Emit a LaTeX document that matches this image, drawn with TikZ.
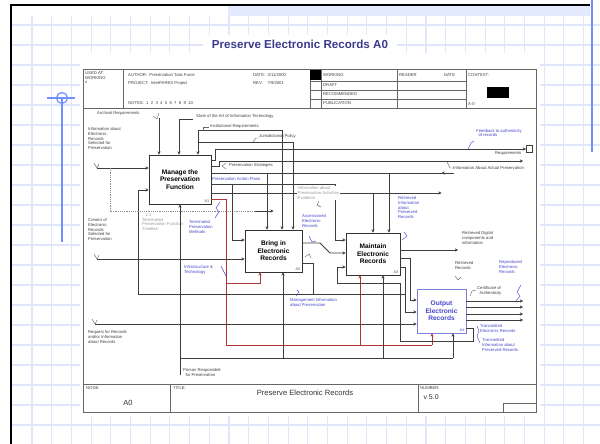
\documentclass[tikz,border=0pt]{standalone}
\usepackage{fontspec}
\setmainfont{Liberation Sans}
\usetikzlibrary{arrows.meta}
\definecolor{gridc}{HTML}{E0E6FB}
\definecolor{bandc}{HTML}{E4EAFD}
\definecolor{bluel}{HTML}{7090FF}
\definecolor{titlec}{HTML}{3A3A8E}
\definecolor{lblue}{HTML}{4646CC}
\definecolor{lred}{HTML}{B03535}
\definecolor{ln}{HTML}{3E3E3E}
\begin{document}
\begin{tikzpicture}[x=1pt,y=-1pt,
  conn/.style={draw=ln, line width=0.75pt},
  arr/.style={conn, -{Stealth[length=3.2pt,width=3.2pt]}},
  redarr/.style={draw=lred, line width=0.75pt, -{Stealth[length=3.2pt,width=3.2pt]}},
  redl/.style={draw=lred, line width=0.75pt},
  dashl/.style={draw=black!45, line width=0.6pt, dash pattern=on 1.2pt off 1pt},
  frame/.style={draw=black!60, line width=0.8pt},
  act/.style={draw=black!80, line width=0.8pt, fill=white, align=center, font=\fontsize{6.6}{7.6}\selectfont\bfseries, inner sep=0pt},
  tiny/.style={font=\fontsize{4.2}{4.9}\selectfont, text=black!75, inner sep=0pt, align=left},
  btiny/.style={tiny, text=lblue},
  gtiny/.style={tiny, text=black!40},
  aid/.style={font=\fontsize{3.8}{4.2}\selectfont, inner sep=0pt, text=black!70},
  squig/.style={draw=lblue, line width=0.45pt},
  ksquig/.style={draw=black!60, line width=0.45pt}
]
\useasboundingbox (0,0) rectangle (600,444);
\fill[white] (0,0) rectangle (600,444);
% background grid
\foreach \i in {0,...,28} {\draw[gridc, line width=1.1pt] ({32+19.7*\i},16) -- ({32+19.7*\i},444);}
\foreach \j in {0,...,20} {\draw[gridc, line width=1.1pt] (11,{25+20*\j}) -- (600,{25+20*\j});}
\fill[bandc] (228,6) rectangle (590,16);
\draw[black, line width=1.2pt] (11,444) -- (11,5) -- (590,5);
\draw[bluel, line width=1.4pt] (592,0) -- (592,152);
\draw[bluel, line width=1.2pt] (47,98) -- (75,98);
\draw[bluel, line width=1.2pt] (62,98) -- (62,242);
\draw[bluel, line width=1.2pt] (62,98) circle (5.5);
% diagram sheet
\fill[white] (80,53) rectangle (540,416);
\fill[white] (203,35) rectangle (397,53);
% title
\node[font=\fontsize{11.6}{13}\selectfont\bfseries, text=titlec] (title) at (300,44) {Preserve Electronic Records A0};
\draw[frame] (83,69) rectangle (536,412);
% header
\draw[frame] (83,108) -- (536,108);
\draw[frame] (123,69) -- (123,108);
\draw[frame] (310,69) -- (310,108);
\draw[frame] (321,69) -- (321,108);
\draw[frame] (397,69) -- (397,108);
\draw[frame] (466,69) -- (466,108);
\draw[frame] (310,81) -- (466,81);
\draw[frame] (310,90) -- (466,90);
\draw[frame] (310,99) -- (466,99);
\fill[black] (310,70) rectangle (321,80);
\fill[black] (487,87) rectangle (509,98);
\node[tiny, anchor=north west] (usedat) at (85,71) {USED AT:\\WORKING\\s};
\node[tiny, anchor=west] (author) at (128,75) {AUTHOR:~~Preservation Task Force};
\node[tiny, anchor=west] (project) at (128,83) {PROJECT:~~InterPARES Project};
\node[tiny, anchor=west] (date) at (253,75) {DATE:~~2/11/2000};
\node[tiny, anchor=west] (rev) at (253,83) {REV:~~~~7/9/2001};
\node[tiny, anchor=west] (notes) at (128,103.5) {NOTES:~~1~~2~~3~~4~~5~~6~~7~~8~~9~~10};
\node[tiny, anchor=west] (working) at (323,75.5) {WORKING};
\node[tiny, anchor=west] (draft) at (323,85.5) {DRAFT};
\node[tiny, anchor=west] (recom) at (323,94.5) {RECOMMENDED};
\node[tiny, anchor=west] (publ) at (323,103.5) {PUBLICATION};
\node[tiny, anchor=west] (reader) at (399,75.5) {READER};
\node[tiny, anchor=west] (rdate) at (444,75.5) {DATE};
\node[tiny, anchor=west] (context) at (468,75.5) {CONTEXT:};
\node[tiny, anchor=west] (azero) at (468,104.5) {A-0};
% footer
\draw[frame] (83,384) -- (536,384);
\draw[frame] (170,384) -- (170,412);
\draw[frame] (418,384) -- (418,412);
\draw[frame] (503,412) -- (503,403) -- (536,403);
\node[tiny, anchor=north west] (nodel) at (86,386) {NODE:};
\node[font=\fontsize{7.5}{8.5}\selectfont, text=black!80] (nodev) at (128,403) {A0};
\node[tiny, anchor=north west] (titlel) at (173,386) {TITLE:};
\node[font=\fontsize{7.6}{8.6}\selectfont, text=black!80] (titlev) at (305,392.5) {Preserve Electronic Records};
\node[tiny, anchor=north west] (numl) at (420,386) {NUMBER:};
\node[font=\fontsize{7}{8}\selectfont, text=black!80, anchor=west] (numv) at (420,397) {v 5.0};
% activity boxes
\node[act, minimum width=62pt, minimum height=49pt] (A1) at (180,179.5) {Manage the\\Preservation\\Function};
\node[act, minimum width=57pt, minimum height=42pt] (A2) at (273.5,251) {Bring in\\Electronic\\Records};
\node[act, minimum width=54pt, minimum height=42pt] (A3) at (373,254) {Maintain\\Electronic\\Records};
\node[act, draw=lblue!70, text=lblue, minimum width=49pt, minimum height=44pt] (A4) at (441.5,311) {Output\\Electronic\\Records};
\node[aid, anchor=south east] at ([shift={(-2,-1.5)}]A1.south east) {A1};
\node[aid, anchor=south east] at ([shift={(-2,-1.5)}]A2.south east) {A2};
\node[aid, anchor=south east] at ([shift={(-2,-1.5)}]A3.south east) {A3};
\node[aid, anchor=south east, text=lblue] at ([shift={(-2,-1.5)}]A4.south east) {A4};
% ---- controls into A1
\coordinate (cArch) at (159,118);
\coordinate (cState) at (179,119);
\coordinate (cInst) at (198,130);
\draw[arr] (cArch) -- (cArch |- A1.north);
\draw[arr] (cState) -- (cState |- A1.north);
\draw[arr] (cInst) -- (cInst |- A1.north);
\draw[conn] (cState) -- ++(14,0);
\draw[ksquig] (153,116) -- (157,119) -- (159,113);
\node[tiny, anchor=west] (tArch) at (97,113.5) {Archival Requirements};
\node[tiny, anchor=west] (tState) at (196,116) {State of the Art of Information Technology};
\draw[conn] (cInst) -- ++(84,0) coordinate (cInstE);
\draw[arr] (cInstE) -- (cInstE |- A2.north);
\node[tiny, anchor=west] (tInst) at (210,126) {Institutional Requirements};
\draw[ksquig] (203,131) -- (203,127) -- (209,127);
\coordinate (cJur) at (198,142);
\draw[conn] (cJur) -- (293,142) coordinate (cJurE);
\draw[arr] (cJurE) -- (cJurE |- A2.north);
\node[tiny, anchor=west] (tJur) at (259,136) {Jurisdictional Policy};
\draw[ksquig] (253,142) -- (256,138) -- (259,138);
% ---- inputs into A1
\coordinate (iInfo) at (97,168);
\draw[arr] (iInfo) -- (iInfo -| A1.west);
\draw[ksquig] (94,163) -- (97,168) -- (99,164);
\node[tiny, anchor=north west] (tInfo) at (88,127) {Information about\\Electronic\\Records\\Selected for\\Preservation};
\coordinate (fbk) at (138,294);
\draw[arr] (fbk) -- (138,190) -- (138,190 -| A1.west);
% ---- dashed tunnel
\draw[dashl] (110,168) -- (110,211) -- (255,211);
\draw[arr] (255,211) -- (255,211 -| A2.north);
\node[gtiny, anchor=north west] (tTerm) at (142,213) {~~~2.1\\Terminated\\Preservation Function\\Timeline};
% ---- outputs of A1
\draw[arr] (A1.east |- 0,160) -- (215,160) -- (215,149) -- (526,149);
\draw[conn] (526,145) rectangle (532,152);
\node[tiny, anchor=west] (tReq) at (495,153.5) {Requirements};
\node[btiny, anchor=west] (tFeed) at (476,133) {Feedback to authenticity\\~~of records};
\draw[squig] (468,149) -- (471,143) -- (474,141);
\draw[arr] (A1.east |- 0,166) -- (219,166) -- (219,161) -- (523,161);
\node[tiny, anchor=west] (tAct) at (453,168) {Information About Actual Preservation};
\draw[ksquig] (447,162) -- (450,168) -- (453,168);
% preservation strategies
\draw[conn] (A1.east |- 0,173) -- (454,173);
\draw[arr] (454,173) -- (454,173 -| A4.north);
\draw[arr] (267,173) -- (267,173 |- A2.north);
\draw[arr] (389,173) -- (389,173 |- A3.north);
\node[tiny, anchor=west] (tStrat) at (229,165.5) {Preservation Strategies};
\draw[ksquig] (226,163) -- (222,166) -- (226,169);
% preservation action plans
\draw[conn] (A1.east |- 0,184) -- (335,184);
\draw[arr] (232,184) -- (232,240) -- (232,240 -| A2.west);
\draw[arr] (335,184) -- (335,240) -- (335,240 -| A3.west);
\node[btiny, anchor=west] (tPlans) at (212,178.5) {Preservation Action Plans};
% line to A4 top at 432 and A3 top at 373
\draw[conn] (A1.east |- 0,193) -- (432,193);
\draw[arr] (432,193) -- (432,193 -| A4.north);
\draw[arr] (373,193) -- (373,193 |- A3.north);
\node[gtiny, anchor=north west, fill=white, inner sep=0.5pt] (tGray) at (297,186) {Information about\\Preservation Activities\\Evidence};
\draw[ksquig] (319,201) -- (317,205) -- (321,207);
% ---- red outputs
\draw[redl] (A1.east |- 0,199) -- (226,199) -- (226,345) -- (432,345);
\draw[redarr] (432,345) -- (432,345 |- A4.south);
\draw[redarr] (226,283) -- (260,283) -- (260,283 |- A2.south);
\draw[redarr] (360,345) -- (360,345 |- A3.south);
\node[btiny, anchor=north west] (tTermM) at (189,220) {Terminated\\Preservation\\Methods};
\draw[squig] (220,202) -- (216,208) -- (219,212) -- (215,218);
\node[btiny, anchor=north west] (tInfra) at (184,265) {Infrastructure \&\\Technology};
\draw[squig] (221,266) -- (224,272) -- (226,276);
% ---- creator input to A2
\coordinate (iCreat) at (97,259);
\draw[arr] (iCreat) -- (iCreat -| A2.west);
\draw[ksquig] (94,254) -- (97,259) -- (99,255);
\node[tiny, anchor=north west] (tCreat) at (88,218) {Creator of\\Electronic\\Records\\Selected for\\Preservation};
% ---- A2 outputs
\draw[arr] (A2.east |- 0,243) -- (320,243) -- (330,253) -- (330,253 -| A3.west);
\node[btiny, anchor=north west] (tAcc) at (302,214) {Accessioned\\Electronic\\Records};
\draw[squig] (309,236) -- (312,242) -- (316,241);
\draw[conn] (A2.east |- 0,263) -- (313,263) -- (313,294);
\draw[ksquig] (305,257) -- (309,254) -- (311,258);
% feedback line y=294
\draw[conn] (405,294) -- (fbk);
\node[btiny, anchor=north west] (tMgmt) at (290,298) {Management Information\\about Preservation};
\draw[squig] (296,296) -- (299,292) -- (297,290);
% ---- A3 outputs
\draw[arr] (A3.east |- 0,250) -- (458,250);
\node[tiny, anchor=north west] (tRDig) at (462,231) {Retrieved Digital\\components and\\information};
\node[btiny, anchor=north west] (tRInf) at (398,196) {Retrieved\\Information\\about\\Preserved\\Records};
\draw[squig] (404,232) -- (407,236) -- (402,240);
\draw[arr] (A3.east |- 0,258) -- (410,258) -- (410,300) -- (410,300 -| A4.west);
\draw[arr] (A3.east |- 0,267) -- (405,267) -- (405,312) -- (405,312 -| A4.west);
\node[tiny, anchor=north west] (tRRec) at (455,261) {Retrieved\\Records};
\draw[ksquig] (455,276) -- (458,280) -- (461,277);
% ---- request input to A4
\coordinate (iReq) at (95,324);
\draw[arr] (iReq) -- (iReq -| A4.west);
\draw[ksquig] (92,319) -- (95,324) -- (97,320);
\node[tiny, anchor=north west] (tReqR) at (88,330) {Request for Records\\and/or Information\\about Records};
% ---- A4 outputs
\draw[arr] (A4.east |- 0,301) -- (523,301);
\draw[arr] (A4.east |- 0,307) -- (523,307);
\draw[arr] (A4.east |- 0,314) -- (523,314);
\draw[arr] (A4.east |- 0,320) -- (523,320);
\node[tiny, anchor=north west] (tCert) at (477,286) {Certificate of\\~~Authenticity};
\draw[ksquig] (470,296) -- (472,291) -- (476,290);
\node[btiny, anchor=north west] (tRepro) at (499,260) {Reproduced\\Electronic\\Records};
\draw[squig] (521,285) -- (517,292) -- (520,296) -- (516,301);
\node[btiny, anchor=north west] (tTrans) at (480,324) {Transmitted\\Electronic Records};
\node[btiny, anchor=north west] (tTInf) at (482,338) {Transmitted\\Information about\\Preserved Records};
\draw[squig] (477,326) -- (479,331) -- (477,336) -- (480,343);
% loop back from A4 to A3
\draw[arr] (A4.east |- 0,328) -- (473,328) -- (473,341) -- (400,341) -- (400,283) -- (337,283) -- (337,267) -- (337,267 -| A3.west);
% ---- mechanisms
\coordinate (mPers) at (180,375);
\draw[arr] (mPers) -- (mPers |- A1.south);
\draw[conn] (180,358) -- (453,358);
\draw[arr] (283,358) -- (283,358 |- A2.south);
\draw[arr] (383,358) -- (383,358 |- A3.south);
\draw[arr] (453,358) -- (453,358 |- A4.south);
\node[tiny, anchor=north west] (tPers) at (183,368) {Person Responsible\\~~for Preservation};
\end{tikzpicture}
\end{document}
